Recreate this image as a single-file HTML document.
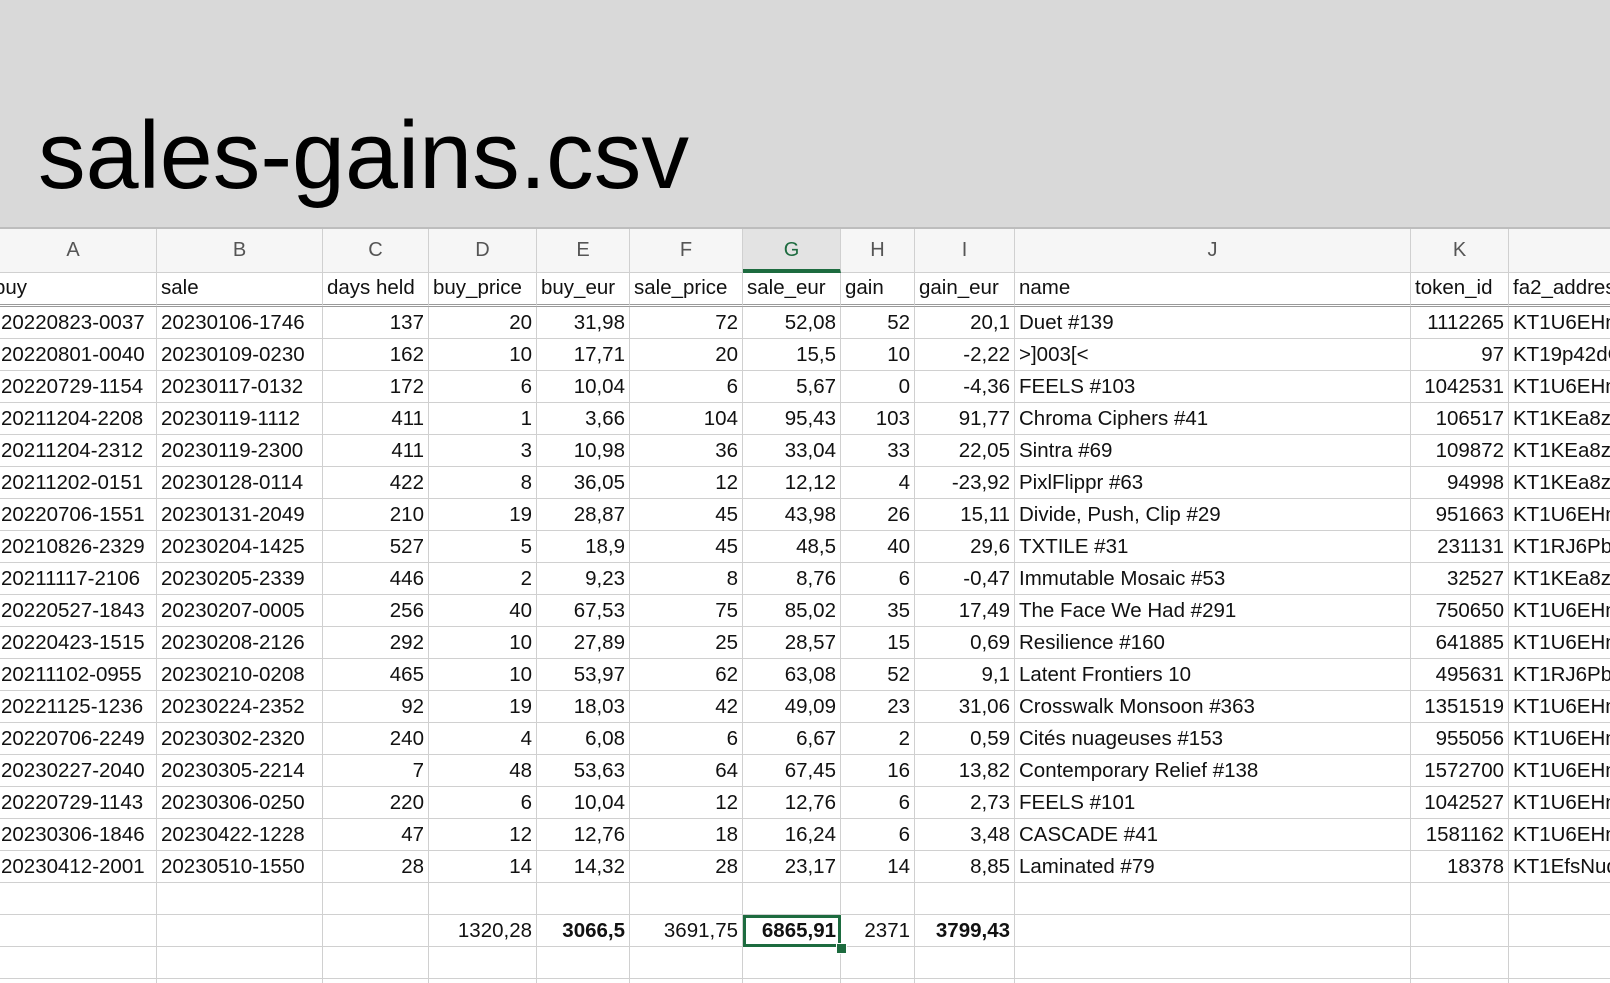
<!DOCTYPE html>
<html><head><meta charset="utf-8">
<style>
html,body{margin:0;padding:0;}
body{width:1610px;height:983px;overflow:hidden;background:#fff;position:relative;font-family:"Liberation Sans",sans-serif;}
#top{position:absolute;left:0;top:0;width:1610px;height:227px;background:#d9d9d9;border-bottom:2px solid #bdbdbd;}
#grid{position:absolute;left:0;top:0;width:1610px;height:983px;overflow:hidden;}
.c{position:absolute;box-sizing:border-box;border-right:1px solid #d0d0d0;border-bottom:1px solid #d0d0d0;font-size:20.5px;line-height:32px;white-space:nowrap;overflow:hidden;color:#111;padding:0 4px;}
.r{text-align:right;}
.h{text-align:center;color:#555;background:#f6f6f6;font-size:20px;line-height:42px;}
.b{font-weight:bold;}
</style></head><body>
<div id="top">
<svg width="1610" height="227" style="position:absolute;left:0;top:0">
<text x="38" y="188" font-size="96" textLength="651" lengthAdjust="spacingAndGlyphs" fill="#000" font-family="Liberation Sans, sans-serif">sales-gains.csv</text>
</svg>
</div>
<div id="grid"></div>
<script>
const colEdges=[-10,157,323,429,537,630,743,841,915,1015,1411,1509,2000];
const letters=["A","B","C","D","E","F","G","H","I","J","K","L"];
const headers=["buy","sale","days held","buy_price","buy_eur","sale_price","sale_eur","gain","gain_eur","name","token_id","fa2_address"];
const rows=[
["20220823-0037","20230106-1746","137","20","31,98","72","52,08","52","20,1","Duet #139","1112265","KT1U6EHmNxJTkvaWJ4ThczG4FSDaHC21ssvi"],
["20220801-0040","20230109-0230","162","10","17,71","20","15,5","10","-2,22",">]003[<","97","KT19p42dGYTHBLMAgDT4DaLkFpGsxwZbA9F5"],
["20220729-1154","20230117-0132","172","6","10,04","6","5,67","0","-4,36","FEELS #103","1042531","KT1U6EHmNxJTkvaWJ4ThczG4FSDaHC21ssvi"],
["20211204-2208","20230119-1112","411","1","3,66","104","95,43","103","91,77","Chroma Ciphers #41","106517","KT1KEa8z6vWXDJrVqtMrAeDVzsvxat3kHaCE"],
["20211204-2312","20230119-2300","411","3","10,98","36","33,04","33","22,05","Sintra #69","109872","KT1KEa8z6vWXDJrVqtMrAeDVzsvxat3kHaCE"],
["20211202-0151","20230128-0114","422","8","36,05","12","12,12","4","-23,92","PixlFlippr #63","94998","KT1KEa8z6vWXDJrVqtMrAeDVzsvxat3kHaCE"],
["20220706-1551","20230131-2049","210","19","28,87","45","43,98","26","15,11","Divide, Push, Clip #29","951663","KT1U6EHmNxJTkvaWJ4ThczG4FSDaHC21ssvi"],
["20210826-2329","20230204-1425","527","5","18,9","45","48,5","40","29,6","TXTILE #31","231131","KT1RJ6PbjHpwc3M5rw5s2Nbmefwbuwbdxton"],
["20211117-2106","20230205-2339","446","2","9,23","8","8,76","6","-0,47","Immutable Mosaic #53","32527","KT1KEa8z6vWXDJrVqtMrAeDVzsvxat3kHaCE"],
["20220527-1843","20230207-0005","256","40","67,53","75","85,02","35","17,49","The Face We Had #291","750650","KT1U6EHmNxJTkvaWJ4ThczG4FSDaHC21ssvi"],
["20220423-1515","20230208-2126","292","10","27,89","25","28,57","15","0,69","Resilience  #160","641885","KT1U6EHmNxJTkvaWJ4ThczG4FSDaHC21ssvi"],
["20211102-0955","20230210-0208","465","10","53,97","62","63,08","52","9,1","Latent Frontiers 10","495631","KT1RJ6PbjHpwc3M5rw5s2Nbmefwbuwbdxton"],
["20221125-1236","20230224-2352","92","19","18,03","42","49,09","23","31,06","Crosswalk Monsoon #363","1351519","KT1U6EHmNxJTkvaWJ4ThczG4FSDaHC21ssvi"],
["20220706-2249","20230302-2320","240","4","6,08","6","6,67","2","0,59","Cités nuageuses #153","955056","KT1U6EHmNxJTkvaWJ4ThczG4FSDaHC21ssvi"],
["20230227-2040","20230305-2214","7","48","53,63","64","67,45","16","13,82","Contemporary Relief #138","1572700","KT1U6EHmNxJTkvaWJ4ThczG4FSDaHC21ssvi"],
["20220729-1143","20230306-0250","220","6","10,04","12","12,76","6","2,73","FEELS #101","1042527","KT1U6EHmNxJTkvaWJ4ThczG4FSDaHC21ssvi"],
["20230306-1846","20230422-1228","47","12","12,76","18","16,24","6","3,48","CASCADE #41","1581162","KT1U6EHmNxJTkvaWJ4ThczG4FSDaHC21ssvi"],
["20230412-2001","20230510-1550","28","14","14,32","28","23,17","14","8,85","Laminated #79","18378","KT1EfsNuqwLAWDd3o4pvfUx1CAh5GMdTrRvr"]
];
const totals=["","","","1320,28","3066,5","3691,75","6865,91","2371","3799,43","","",""];
const boldTotals=[4,6,8];
const leftCols=[0,1,9,11];
const g=document.getElementById('grid');
function cell(x,y,w,h,txt,cls,name){
  const d=document.createElement('div');
  d.className='c '+cls;
  d.style.left=x+'px';d.style.top=y+'px';d.style.width=w+'px';d.style.height=h+'px';
  d.textContent=txt;
  
  
  g.appendChild(d);return d;
}
const letterTop=229, letterH=44, headTop=273, headH=34, rowTop=307, rowH=32;
for(let c=0;c<12;c++){
  const x=colEdges[c], w=colEdges[c+1]-colEdges[c];
  const lh=cell(x,letterTop,w,letterH,letters[c],'h','column-letter-'+letters[c].toLowerCase());
  if(c===6){lh.style.background='#e3e3e3';lh.style.color='#1d6b3f';lh.style.borderBottom='4px solid #1d6b3f';}
  const hd=cell(x,headTop,w,headH,headers[c],'','header-'+headers[c].replace(/[_ ]/g,'-'));
  hd.style.borderBottom='3px double #9a9a9a';hd.style.lineHeight='30px';
  if(c===0) hd.style.textIndent='0px';
  rows.forEach((r,i)=>{
    const d=cell(x,rowTop+i*rowH,w,rowH,r[c],leftCols.includes(c)?'':'r','cell-'+letters[c].toLowerCase()+'-'+(i+2));
    if(c===0) d.style.textIndent='7px';
  });
  const n=rows.length;
  cell(x,rowTop+n*rowH,w,rowH,'','','blank-cell-'+letters[c].toLowerCase());
  const t=cell(x,rowTop+(n+1)*rowH,w,rowH,totals[c],'r'+(boldTotals.includes(c)?' b':''),'total-'+letters[c].toLowerCase());
  if(c===6){t.style.outline='3px solid #1d6b3f';t.style.outlineOffset='-3px';t.style.overflow='visible';}
  cell(x,rowTop+(n+2)*rowH,w,rowH,'','','blank-cell-2-'+letters[c].toLowerCase());
  cell(x,rowTop+(n+3)*rowH,w,rowH,'','','blank-cell-3-'+letters[c].toLowerCase());
}
const hnd=document.createElement('div');
hnd.style.cssText='position:absolute;left:836px;top:'+(rowTop+(rows.length+2)*rowH-4)+'px;width:9px;height:9px;background:#1d6b3f;border:1px solid #fff;';


g.appendChild(hnd);
</script>
</body></html>
